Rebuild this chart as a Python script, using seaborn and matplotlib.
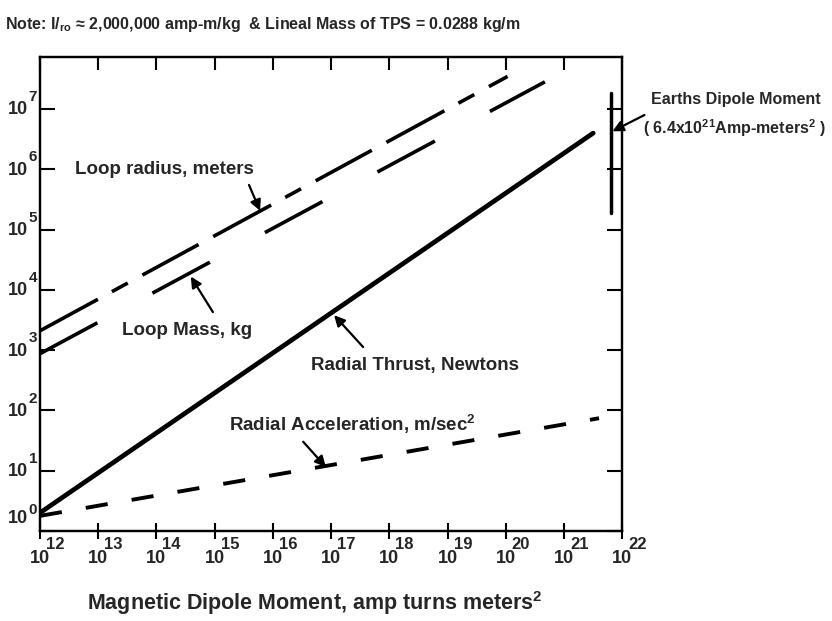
import matplotlib
matplotlib.use('Agg')
import matplotlib.pyplot as plt
import seaborn as sns

# Values. All curves are straight on log-log axes,
# so each one is given by its two end points.
thrust_x = [1e12, 10**21.5]
thrust_y = [10**0.3, 10**6.6]
radius_x = [1e12, 10**20.03]
radius_y = [10**3.32, 10**7.54]
mass_x = [1e12, 10**20.67]
mass_y = [10**2.94, 10**7.45]
accel_x = [1e12, 10**21.6]
accel_y = [10**0.25, 10**1.87]
earth_x = [6.4e21, 6.4e21]
earth_y = [10**5.28, 10**7.27]

x_exponents = list(range(12, 23))
y_exponents = list(range(0, 8))

note_text = r"Note: I/$_{\rm ro}$ ≈ 2,000,000 amp-m/kg  & Lineal Mass of TPS = 0.0288 kg/m"
xlabel_text = r"Magnetic Dipole Moment, amp turns meters$^{2}$"

sns.set_theme(style="white")
plt.rcParams['font.family'] = ['Liberation Sans', 'DejaVu Sans']
plt.rcParams['font.weight'] = 'bold'
plt.rcParams['mathtext.fontset'] = 'custom'
plt.rcParams['mathtext.rm'] = 'Liberation Sans:bold'
plt.rcParams['mathtext.it'] = 'Liberation Sans:bold'
plt.rcParams['mathtext.bf'] = 'Liberation Sans:bold'
plt.rcParams['lines.scale_dashes'] = False

fig = plt.figure(figsize=(8.32, 6.21), dpi=100)
ax = fig.add_axes([0.048, 0.145, 0.70, 0.763])
ax.set_xscale('log')
ax.set_yscale('log')

# curves (estimator=None so seaborn draws the points as given)
line_kw = dict(ax=ax, color='black', estimator=None, sort=False)
sns.lineplot(x=radius_x, y=radius_y, lw=2.6,
             linestyle=(0, (47.5, 11.5, 13, 12, 46, 12)), **line_kw)
sns.lineplot(x=mass_x, y=mass_y, lw=2.6, linestyle=(0, (47, 45)), **line_kw)
sns.lineplot(x=thrust_x, y=thrust_y, lw=3.4, **line_kw)
sns.lineplot(x=accel_x, y=accel_y, lw=2.8, linestyle=(0, (16, 17.5)), **line_kw)
sns.lineplot(x=earth_x, y=earth_y, lw=2.5, **line_kw)

ax.set_xlim(1e12, 1e22)
ax.set_ylim(1, 10**7.86)
ax.minorticks_off()
ax.set_xticks([10.0**e for e in x_exponents])
ax.set_yticks([10.0**e for e in y_exponents])
ax.tick_params(axis='x', direction='inout', length=11, width=1.5, color='black',
               bottom=True, labelbottom=False)
ax.tick_params(axis='y', direction='in', length=11, width=1.5, color='black',
               left=True, right=True, labelleft=False)
for s in ax.spines.values():
    s.set_color('black')
    s.set_linewidth(1.6)

# top ticks point inward only
ax_top = ax.twiny()
ax_top.set_xscale('log')
ax_top.set_xlim(ax.get_xlim())
ax_top.minorticks_off()
ax_top.set_xticks([10.0**e for e in x_exponents])
ax_top.tick_params(axis='x', direction='in', length=9, width=1.5, color='black',
                   top=True, labeltop=False)
for s in ax_top.spines.values():
    s.set_color('black')
    s.set_linewidth(1.6)

# tick labels: "10" with a large exponent
for e in x_exponents:
    ax.annotate('10', xy=(10.0**e, 0), xycoords=('data', 'axes fraction'),
                xytext=(0, -13.5), textcoords='offset points', ha='center', va='top',
                fontsize=13, annotation_clip=False)
    ax.annotate(str(e), xy=(10.0**e, 0), xycoords=('data', 'axes fraction'),
                xytext=(4.3, -4.5), textcoords='offset points', ha='left', va='top',
                fontsize=12, annotation_clip=False)
for e in y_exponents:
    dy = 9.5 if e == 0 else 0
    ax.annotate('10', xy=(0, 10.0**e), xycoords=('axes fraction', 'data'),
                xytext=(-8.6, -0.7 + dy), textcoords='offset points', ha='right', va='center',
                fontsize=13, annotation_clip=False)
    ax.annotate(str(e), xy=(0, 10.0**e), xycoords=('axes fraction', 'data'),
                xytext=(-8.2, 8.5 + dy * 0.7), textcoords='offset points', ha='left', va='center',
                fontsize=11, annotation_clip=False)

# curve labels and arrows
arrow = dict(arrowstyle='-|>', color='black', lw=1.6, mutation_scale=16,
             shrinkA=0, shrinkB=0)
ax.text(10**12.6, 10**5.99, 'Loop radius, meters', fontsize=13.5, va='center', ha='left')
ax.annotate('', xy=(10**15.78, 10**5.31), xytext=(10**15.59, 10**5.74), arrowprops=arrow)
ax.text(10**13.41, 10**3.33, 'Loop Mass, kg', fontsize=13.5, va='center', ha='left')
ax.annotate('', xy=(10**14.59, 10**4.22), xytext=(10**14.97, 10**3.63), arrowprops=arrow)
ax.text(10**16.66, 10**2.75, 'Radial Thrust, Newtons', fontsize=13.5, va='center', ha='left')
ax.annotate('', xy=(10**17.05, 10**3.58), xytext=(10**17.55, 10**3.05), arrowprops=arrow)
ax.text(10**15.24, 10**1.76, r'Radial Acceleration, m/sec$^{2}$', fontsize=13.5,
        va='center', ha='left')
ax.annotate('', xy=(10**16.91, 10**1.06), xytext=(10**16.52, 10**1.48), arrowprops=arrow)
ax.annotate('', xy=(10**21.83, 10**6.63), xytext=(10**22.38, 10**6.9), arrowprops=arrow,
            annotation_clip=False)
ax.text(10**22.5, 10**7.16, 'Earths Dipole Moment', fontsize=11.5, va='center', ha='left',
        clip_on=False)
ax.text(10**22.36, 10**6.69, r'( 6.4x10$^{21}$Amp-meters$^{2}$ )', fontsize=11.5,
        va='center', ha='left', clip_on=False)

fig.text(5 / 832, 1 - 25 / 621, note_text, fontsize=11.5, va='center', ha='left')
fig.text(315 / 832, 1 - 603 / 621, xlabel_text, fontsize=15.5, va='center', ha='center')

fig.savefig('out.png', dpi=100)
